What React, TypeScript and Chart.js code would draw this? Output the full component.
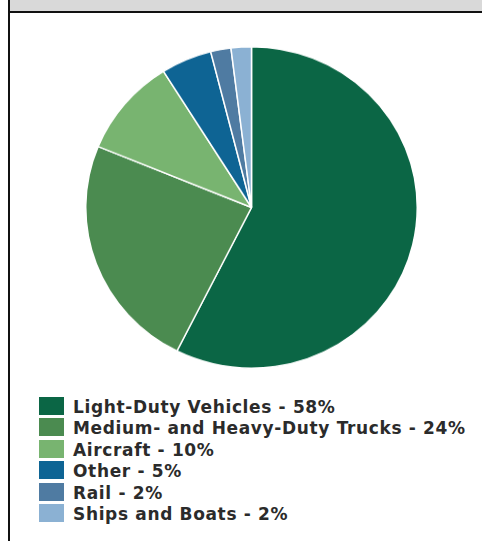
import React, { useEffect, useRef } from "react";
import { Chart, registerables } from "chart.js";

Chart.register(...registerables);

const categories = [
  "Light-Duty Vehicles",
  "Medium- and Heavy-Duty Trucks",
  "Aircraft",
  "Other",
  "Rail",
  "Ships and Boats",
];
const shares = [58, 24, 10, 5, 2, 2];
const colors = ["#0b6645", "#4b8b50", "#78b470", "#0e6494", "#4f7ba2", "#8bb1d3"];

export default function App() {
  const ref = useRef<HTMLCanvasElement | null>(null);

  useEffect(() => {
    if (!ref.current) return;
    const chart = new Chart(ref.current, {
      type: "pie",
      data: {
        labels: categories,
        datasets: [
          {
            data: shares,
            backgroundColor: colors,
            borderColor: "#ffffff",
            borderWidth: 1.5,
          },
        ],
      },
      options: {
        responsive: false,
        animation: false,
        layout: { padding: 0 },
        plugins: { legend: { display: false }, tooltip: { enabled: false }, title: { display: false } },
      },
    });
    return () => chart.destroy();
  }, []);

  const scaleY = 321 / 331;

  return (
    <div style={{ position: "absolute", left: 0, top: 0, width: 482, height: 541, overflow: "hidden", background: "#fff" }}>
      <div
        style={{
          position: "absolute",
          left: 8,
          top: -10,
          width: 500,
          height: 620,
          borderLeft: "2px solid #111",
          background: "#fff",
          boxSizing: "border-box",
        }}
      >
        <div style={{ height: 21, background: "#d9d9d9", borderBottom: "2px solid #111" }} />
      </div>
      <div
        style={{
          position: "absolute",
          left: 85,
          top: 46,
          width: 333,
          height: 333,
          transform: `scaleY(${scaleY})`,
          transformOrigin: "top left",
        }}
      >
        <canvas ref={ref} width={333} height={333} style={{ display: "block" }} />
      </div>
      <div
        style={{
          position: "absolute",
          left: 39,
          top: 397,
          fontFamily: "'DejaVu Sans', sans-serif",
          fontWeight: "bold",
          fontSize: 17,
          letterSpacing: "0.65px",
          color: "#2b2b2b",
        }}
      >
        {categories.map((c, i) => (
          <div key={c} style={{ display: "flex", height: 21.4 }}>
            <div style={{ width: 25, height: 18, background: colors[i], marginRight: 9, flex: "none" }} />
            <span style={{ whiteSpace: "nowrap", lineHeight: "18px", position: "relative", top: 1 }}>
              {c} - {shares[i]}%
            </span>
          </div>
        ))}
      </div>
    </div>
  );
}
